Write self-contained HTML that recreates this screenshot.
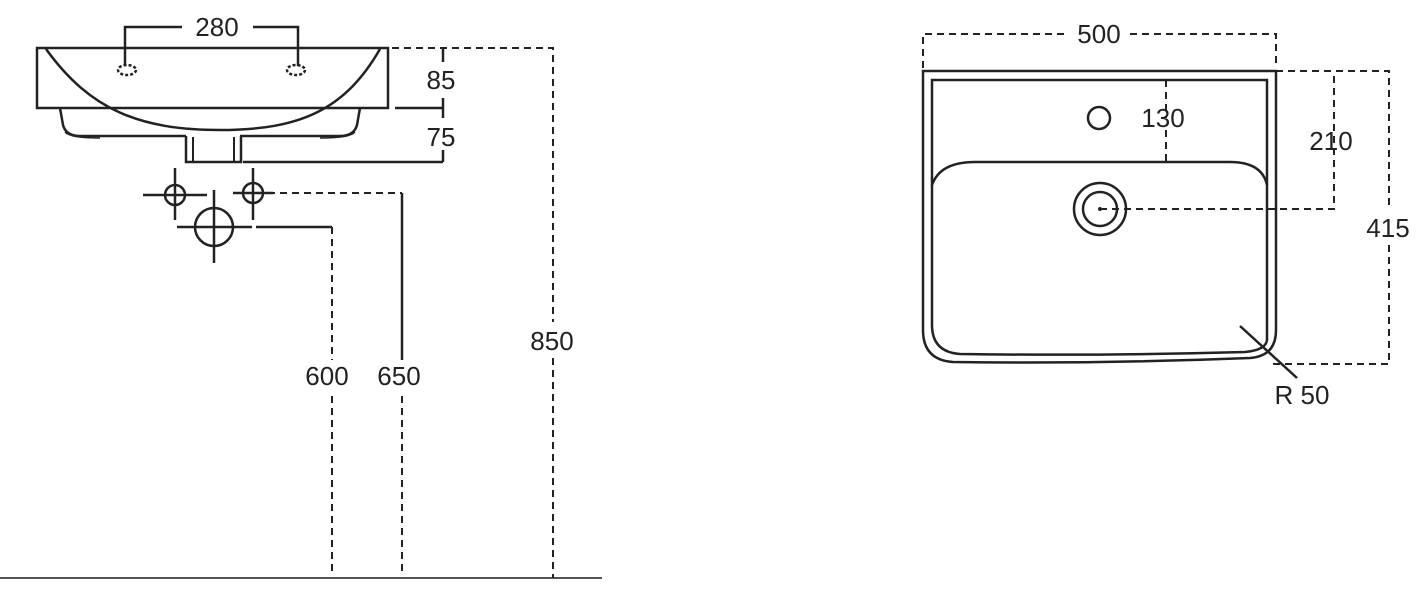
<!DOCTYPE html>
<html><head><meta charset="utf-8"><style>
html,body{margin:0;padding:0;background:#fff;}
svg{display:block;}
text{font-family:"Liberation Sans",sans-serif;font-size:26px;fill:#222;}
</style></head><body>
<svg width="1419" height="600" viewBox="0 0 1419 600" xmlns="http://www.w3.org/2000/svg">
<g fill="none" stroke="#222" stroke-width="2.5">
  <!-- left basin -->
  <path d="M37,48 L388,48 L388,108 L37,108 Z"/>
  <path d="M46,49 C90,110 140,130 220,130 C300,130 345,110 380,49"/>
  <path d="M60,108 L63,125 Q66,136 80,136 L186,136"/>
  <path d="M360,108 L357,125 Q354,136 340,136 L240,136"/>
  <path d="M65,132 Q70,138 100,138" stroke-width="1.5"/>
  <path d="M355,132 Q350,138 320,138" stroke-width="1.5"/>
  <path d="M186,136 L186,162 L241,162 L241,136"/>
  <path d="M193,137 L193,162 M234,137 L234,162" stroke-width="2"/>
  <!-- 280 dim -->
  <path d="M125,66 L125,27 L182,27 M253,27 L298,27 L298,66"/>
  <ellipse cx="127" cy="70" rx="9" ry="5" stroke-dasharray="3 2"/>
  <ellipse cx="296" cy="70" rx="9" ry="5" stroke-dasharray="3 2"/>
  <!-- 85/75 -->
  <path d="M443,48 L443,62 M443,98 L443,118 M443,150 L443,162 M395,108 L443,108 M243,162 L443,162"/>
  <!-- crosses -->
  <circle cx="175" cy="195" r="10"/>
  <path d="M143,195 L207,195 M175,168 L175,220"/>
  <circle cx="253" cy="193" r="10"/>
  <path d="M233,193 L273,193 M253,168 L253,220"/>
  <circle cx="214" cy="227" r="19"/>
  <path d="M177,227 L252,227 M214,190 L214,263"/>
  <!-- 600 / 650 -->
  <path d="M256,227 L332,227"/>
  <path d="M402,193 L402,360"/>
  <path d="M0,578 L602,578" stroke="#555" stroke-width="2"/>
</g>
<g fill="none" stroke="#222" stroke-width="2" stroke-dasharray="7 5">
  <path d="M392,48 L553,48 L553,322 M553,358 L553,578"/>
  <path d="M268,193 L402,193"/>
  <path d="M332,227 L332,360 M332,396 L332,572"/>
  <path d="M402,396 L402,572"/>
</g>
<text x="217" y="36" text-anchor="middle">280</text>
<text x="441" y="89" text-anchor="middle">85</text>
<text x="441" y="146" text-anchor="middle">75</text>
<text x="327" y="385" text-anchor="middle">600</text>
<text x="399" y="385" text-anchor="middle">650</text>
<text x="552" y="350" text-anchor="middle">850</text>

<!-- right view -->
<g fill="none" stroke="#222" stroke-width="2.5">
  <path d="M923,71 L1276,71 L1276,330 Q1276,356 1250,358 Q1100,364 953,362 Q923,360 923,330 Z"/>
  <path d="M932,80 L1267,80 L1267,340 Q1266,350 1245,352 Q1100,356 960,354 Q932,352 932,325 Z"/>
  <path d="M932,185 Q940,162 975,162 L1230,162 Q1262,162 1267,185"/>
  <circle cx="1099" cy="118" r="11"/>
  <circle cx="1100" cy="209" r="26"/>
  <circle cx="1100" cy="209" r="17"/>
  <path d="M1240,326 L1297,378"/>
</g>
<g fill="none" stroke="#222" stroke-width="2" stroke-dasharray="7 5">
  <path d="M923,68 L923,34 L1068,34 M1130,34 L1276,34 L1276,68"/>
  <path d="M1166,80 L1166,118 M1166,130 L1166,162"/>
  <path d="M1100,209 L1334,209 L1334,71"/>
  <path d="M1276,71 L1389,71 L1389,205 M1389,245 L1389,364 L1270,364"/>
</g>
<circle cx="1100" cy="209" r="2" fill="#222"/>
<text x="1099" y="43" text-anchor="middle">500</text>
<text x="1163" y="127" text-anchor="middle">130</text>
<text x="1331" y="150" text-anchor="middle">210</text>
<text x="1388" y="237" text-anchor="middle">415</text>
<text x="1302" y="404" text-anchor="middle">R 50</text>
</svg>
</body></html>
